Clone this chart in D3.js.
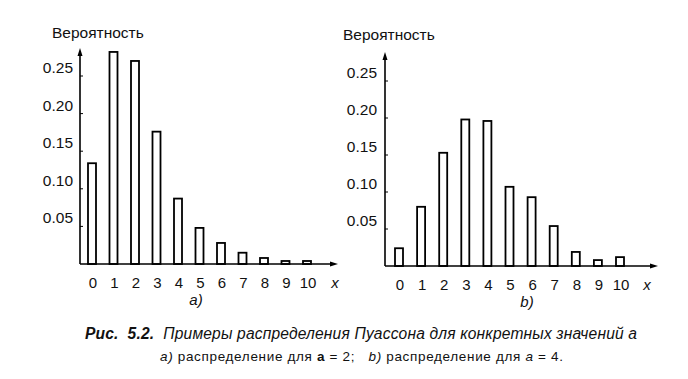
<!DOCTYPE html>
<html><head><meta charset="utf-8">
<script src="https://cdn.jsdelivr.net/npm/d3@7"></script>
<style>body{margin:0;background:#fff}svg{display:block}text{font-family:"Liberation Sans",Arial,sans-serif;fill:#111;white-space:pre}</style>
</head><body>
<script>
const categories = [0,1,2,3,4,5,6,7,8,9,10];
const valuesA2 = [0.134, 0.282, 0.270, 0.176, 0.087, 0.048, 0.028, 0.015, 0.008, 0.004, 0.004];
const valuesA4 = [0.024, 0.080, 0.153, 0.198, 0.196, 0.107, 0.093, 0.054, 0.019, 0.008, 0.012];
const yTicks = [0.05, 0.10, 0.15, 0.20, 0.25];
const yLabel = "Вероятность";
const panelLabels = ["a)", "b)"];
const captionLine1 = ["Рис.  5.2.", "  Примеры распределения Пуассона для конкретных значений а"];
const captionLine2 = ["а)", " распределение для ", "а", " = 2;   ", "b)", " распределение для ", "а", " = 4."];
const captionStyle = ["i", "n", "b", "n", "i", "n", "i", "n"];

const svg = d3.select("body").append("svg").attr("width",688).attr("height",379);

function panel(cfg, values, label){
  const g = svg.append("g");
  const x = d3.scaleLinear().domain([0,10]).range([cfg.x0, cfg.x10]);
  const y = d3.scaleLinear().domain([0,0.25]).range([cfg.base, cfg.top25]);
  g.selectAll("rect").data(values).enter().append("rect")
    .attr("x",(d,i)=>x(categories[i])-4).attr("width",8)
    .attr("y",d=>y(d)).attr("height",d=>y(0)-y(d))
    .attr("fill","#fff").attr("stroke","#000").attr("stroke-width",1.8);
  g.append("line").attr("x1",cfg.ax).attr("x2",cfg.ax).attr("y1",cfg.base).attr("y2",cfg.arrowTop+6)
    .attr("stroke","#000").attr("stroke-width",1.6);
  g.append("path").attr("d",`M${cfg.ax},${cfg.arrowTop} l-2.5,8 l5,0 z`).attr("fill","#000");
  g.append("line").attr("x1",cfg.ax).attr("x2",cfg.arrowRight-6).attr("y1",cfg.base).attr("y2",cfg.base)
    .attr("stroke","#000").attr("stroke-width",1.6);
  g.append("path").attr("d",`M${cfg.arrowRight},${cfg.base} l-8,-2.5 l0,5 z`).attr("fill","#000");
  g.selectAll(".yt").data(yTicks).enter().append("line")
    .attr("x1",cfg.ax).attr("x2",cfg.ax+3).attr("y1",d=>y(d)).attr("y2",d=>y(d))
    .attr("stroke","#000").attr("stroke-width",1);
  g.selectAll(".yl").data(yTicks).enter().append("text")
    .attr("x",cfg.ax-cfg.labGap).attr("y",d=>y(d)-3).attr("text-anchor","end")
    .attr("font-size",15.5).text(d=>d3.format(".2f")(d));
  g.selectAll(".xl").data(categories).enter().append("text")
    .attr("x",d=>x(d)+1).attr("y",cfg.base+24).attr("text-anchor","middle")
    .attr("font-size",15).text(d=>d);
  g.append("text").attr("x",cfg.xLab).attr("y",cfg.base+24).attr("text-anchor","middle")
    .attr("font-size",15).attr("font-style","italic").text("x");
  g.append("text").attr("x",cfg.yLabX).attr("y",cfg.yLabY).attr("font-size",15.5).text(yLabel);
  g.append("text").attr("x",cfg.panX).attr("y",cfg.base+41).attr("text-anchor","middle")
    .attr("font-size",15).attr("font-style","italic").text(label);
}

panel({x0:92, x10:307, base:264, top25:76, ax:80, arrowTop:48, arrowRight:338, labGap:7, xLab:335, yLabX:52, yLabY:38, panX:196}, valuesA2, panelLabels[0]);
panel({x0:399, x10:620, base:266, top25:81, ax:385, arrowTop:52, arrowRight:658, labGap:8, xLab:647, yLabX:343, yLabY:40, panX:527}, valuesA4, panelLabels[1]);

const c1 = svg.append("text").attr("x",85).attr("y",339).attr("font-size",15.6).attr("font-style","italic")
  .attr("textLength",552).attr("lengthAdjust","spacing");
c1.append("tspan").attr("font-weight","bold").text(captionLine1[0]);
c1.append("tspan").text(captionLine1[1]);
const c2 = svg.append("text").attr("x",160).attr("y",361).attr("font-size",13.5)
  .attr("textLength",403).attr("lengthAdjust","spacing");
captionLine2.forEach((s,i)=>c2.append("tspan")
  .attr("font-style",captionStyle[i]==="i"?"italic":"normal")
  .attr("font-weight",captionStyle[i]==="b"?"bold":"normal").text(s));
</script>
</body></html>
